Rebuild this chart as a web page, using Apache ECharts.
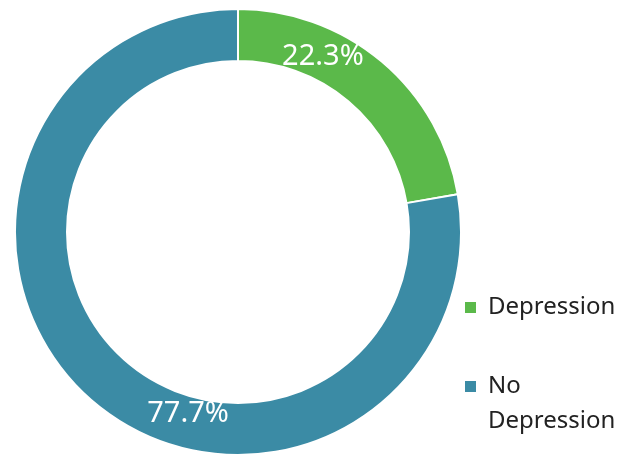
<!DOCTYPE html>
<html><head><meta charset="utf-8">
<script src="https://cdn.jsdelivr.net/npm/echarts@6/dist/echarts.min.js"></script>
<style>html,body{margin:0;padding:0;background:#fff}#c{width:629px;height:455px}</style>
</head><body><div id="c"></div>
<script>
const categories = ['Depression', 'No Depression'];
const legendLabels = [['Depression'], ['No', 'Depression']];
const values = [22.3, 77.7];
const colors = ['#5BB94A', '#3B8BA5'];
const labelOffsets = [[-44, -22], [79, 29]];

const tokenStyle = {fontFamily: 'Noto Sans', fontSize: 24, lineHeight: 35, color: '#222', padding: [0, 0, 0, 6]};
function legendFor(i, top, pre) {
  return {
    orient: 'vertical',
    left: 463,
    top: top,
    padding: 0,
    icon: 'rect',
    itemWidth: 13,
    itemHeight: 13,
    selectedMode: false,
    formatter: function () {
      return (pre ? '{t| }\n' : '') + legendLabels[i].map(s => '{t|' + s + '}').join('\n');
    },
    textStyle: {fontFamily: 'Noto Sans', fontSize: 24, lineHeight: 35, color: '#222', rich: {t: tokenStyle}},
    data: [categories[i]]
  };
}
const chart = echarts.init(document.getElementById('c'), null, {renderer: 'canvas'});
chart.setOption({
  animation: false,
  color: colors,
  legend: [legendFor(0, 290, false), legendFor(1, 334, true)],
  series: [{
    type: 'pie',
    center: [238, 232],
    radius: [171, 223],
    startAngle: 90,
    clockwise: true,
    avoidLabelOverlap: false,
    emphasis: {disabled: true},
    itemStyle: {borderColor: '#fff', borderWidth: 2},
    labelLine: {show: false},
    data: categories.map((c, i) => ({
      name: c,
      value: values[i],
      label: {offset: labelOffsets[i]}
    })),
    label: {
      show: true,
      position: 'inside',
      color: '#fff',
      fontFamily: 'Noto Sans',
      fontSize: 29,
      formatter: p => p.value.toFixed(1) + '%'
    }
  }]
});
</script></body></html>
